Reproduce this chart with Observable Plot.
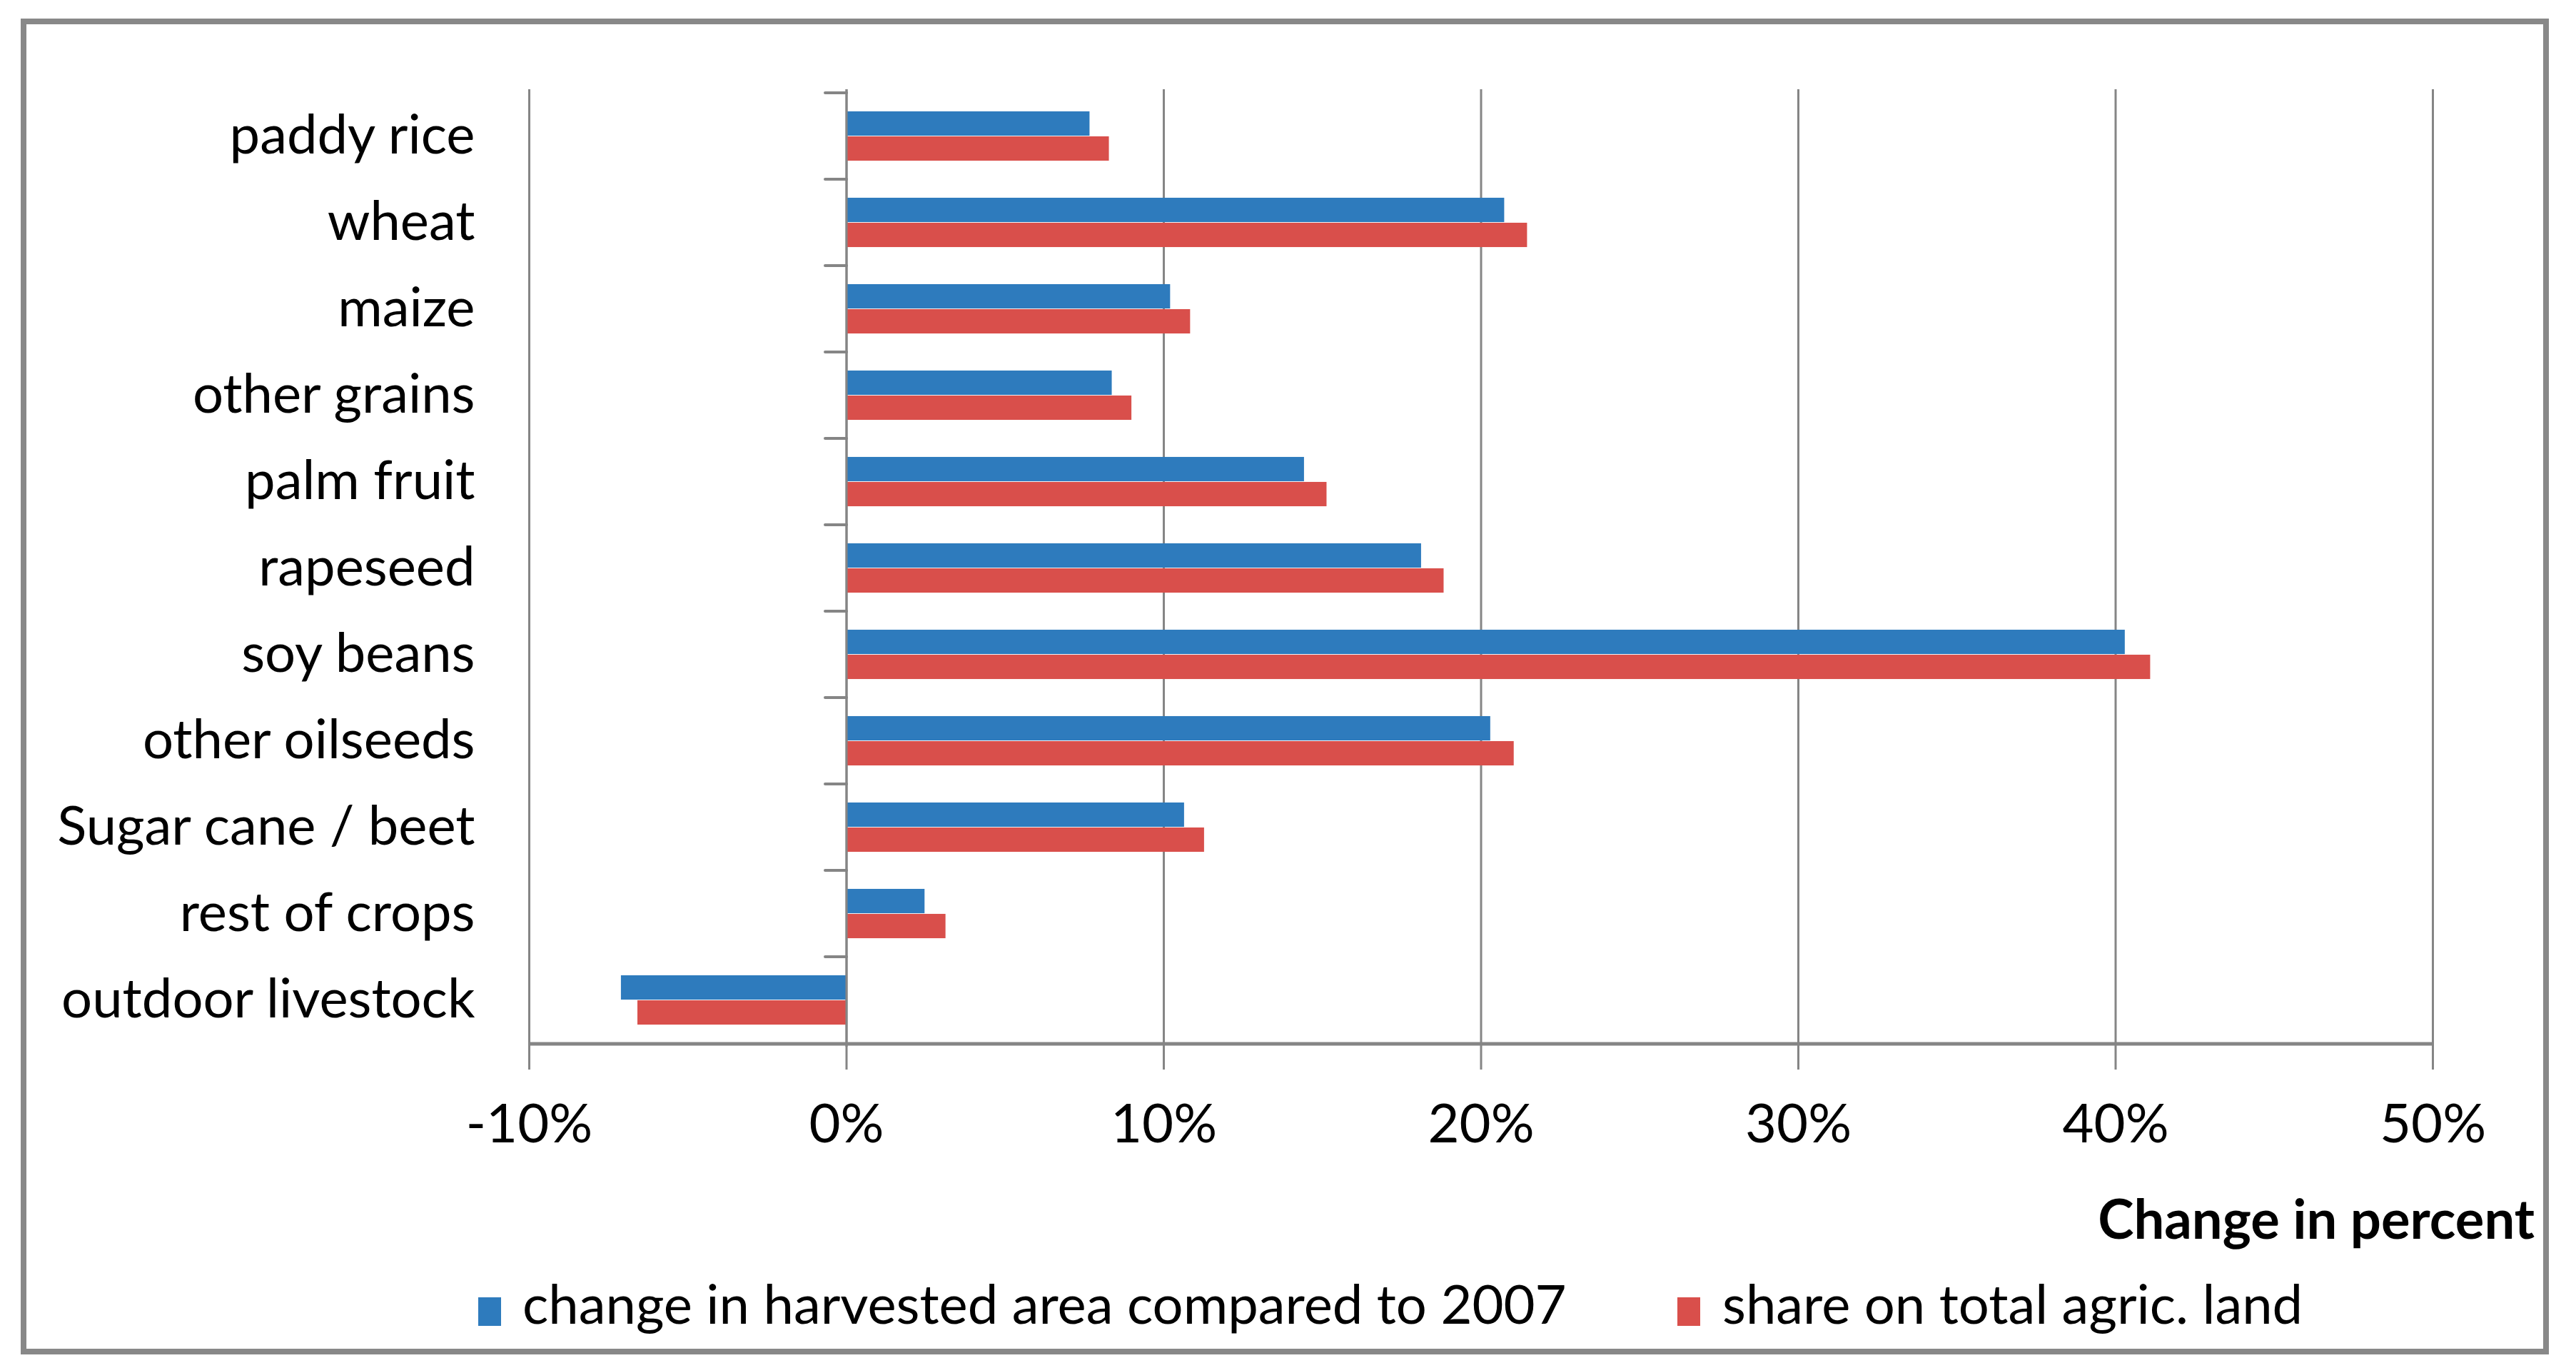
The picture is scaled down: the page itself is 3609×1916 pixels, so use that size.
<!DOCTYPE html>
<html>
<head>
<meta charset="utf-8">
<script src="https://cdn.jsdelivr.net/npm/d3@7"></script>
<script src="https://cdn.jsdelivr.net/npm/@observablehq/plot@0.6"></script>
<style>
  html, body { margin: 0; padding: 0; background: #fff; }
  body { width: 3609px; height: 1916px; position: relative; overflow: hidden; font-family: Lato, "Open Sans", sans-serif; }
  #frame { position: absolute; left: 29px; top: 26px; width: 3526px; height: 1855px; border: 8px solid #888888; }
  #chart { position: absolute; left: 0; top: 0; }
  .axtitle { position: absolute; right: 58px; top: 1668px; font-size: 76px; font-weight: bold; line-height: 76px; color: #000; white-space: nowrap; }
  .sw { position: absolute; width: 32px; height: 40px; }
  .lt { position: absolute; font-size: 76px; line-height: 76px; color: #000; white-space: nowrap; }
</style>
</head>
<body>
<div id="frame"></div>
<div id="chart"></div>
<div id="legend"></div>
<script>
const categories = ["paddy rice", "wheat", "maize", "other grains", "palm fruit", "rapeseed", "soy beans", "other oilseeds", "Sugar cane / beet", "rest of crops", "outdoor livestock"];
const harvestedChange = [7.67, 20.74, 10.21, 8.37, 14.43, 18.12, 40.3, 20.3, 10.65, 2.47, -7.1];
const landShare = [8.28, 21.46, 10.84, 8.99, 15.14, 18.83, 41.1, 21.04, 11.28, 3.13, -6.58];
const xTicks = [-10, 0, 10, 20, 30, 40, 50];
const seriesNames = ["change in harvested area compared to 2007", "share on total agric. land"];
const seriesColors = ["#2e7bbd", "#d94f4b"];
const axisTitle = "Change in percent";

const W = 3609, H = 1640;
const mt = 125, mb = H - 1466, ml = 741, mr = W - 3408;
const bw = (H - mt - mb) / categories.length;
const barH = 35, gap = (bw - 2 * barH) / 2;
const gridColor = "#858585";
const pct = d => d + "%";

const rows = categories.map((c, i) => ({cat: c, a: harvestedChange[i], b: landShare[i]}));

const tickShape = {draw(context, l) { context.moveTo(0, 0); context.lineTo(0, -l); }};

const chart = Plot.plot({
  width: W, height: H,
  marginTop: mt, marginBottom: mb, marginLeft: ml, marginRight: mr,
  style: {fontFamily: "Lato, 'Open Sans', sans-serif", fontSize: "76px", color: "#000", background: "transparent"},
  x: {domain: [-10, 50], ticks: xTicks, tickFormat: pct, label: null},
  y: {domain: categories, padding: 0, label: null},
  marks: [
    Plot.gridX(xTicks, {stroke: gridColor, strokeOpacity: 1, strokeWidth: 3}),
    Plot.barX(rows, {y: "cat", x1: 0, x2: "a", fill: seriesColors[0], insetTop: gap, insetBottom: gap + barH}),
    Plot.barX(rows, {y: "cat", x1: 0, x2: "b", fill: seriesColors[1], insetTop: gap + barH, insetBottom: gap}),
    Plot.ruleX([0], {stroke: gridColor, strokeWidth: 3}),
    Plot.vector(categories, {x: () => 0, y: d => d, dy: -bw / 2, length: 30, rotate: -90, anchor: "start", shape: tickShape, stroke: gridColor, strokeWidth: 4}),
    Plot.ruleY(categories.slice(-1), {y: d => d, dy: bw / 2, stroke: gridColor, strokeWidth: 5}),
    Plot.axisX(xTicks, {anchor: "bottom", tickSize: 32, tickPadding: 48, tickFormat: pct, stroke: gridColor, strokeWidth: 3, fontSize: 76, label: null}),
    Plot.axisY({anchor: "left", tickSize: 0, tickPadding: 76, fontSize: 76, label: null})
  ]
});
document.getElementById("chart").appendChild(chart);

const legend = document.getElementById("legend");
const axt = document.createElement("div");
axt.className = "axtitle";
axt.textContent = axisTitle;
legend.appendChild(axt);
const legPos = [[670, 732], [2350, 2413]];
seriesNames.forEach((name, i) => {
  const sw = document.createElement("div");
  sw.className = "sw";
  sw.style.left = legPos[i][0] + "px";
  sw.style.top = "1817px";
  sw.style.background = seriesColors[i];
  legend.appendChild(sw);
  const t = document.createElement("div");
  t.className = "lt";
  t.style.left = legPos[i][1] + "px";
  t.style.top = "1787px";
  t.textContent = name;
  legend.appendChild(t);
});
</script>
</body>
</html>
